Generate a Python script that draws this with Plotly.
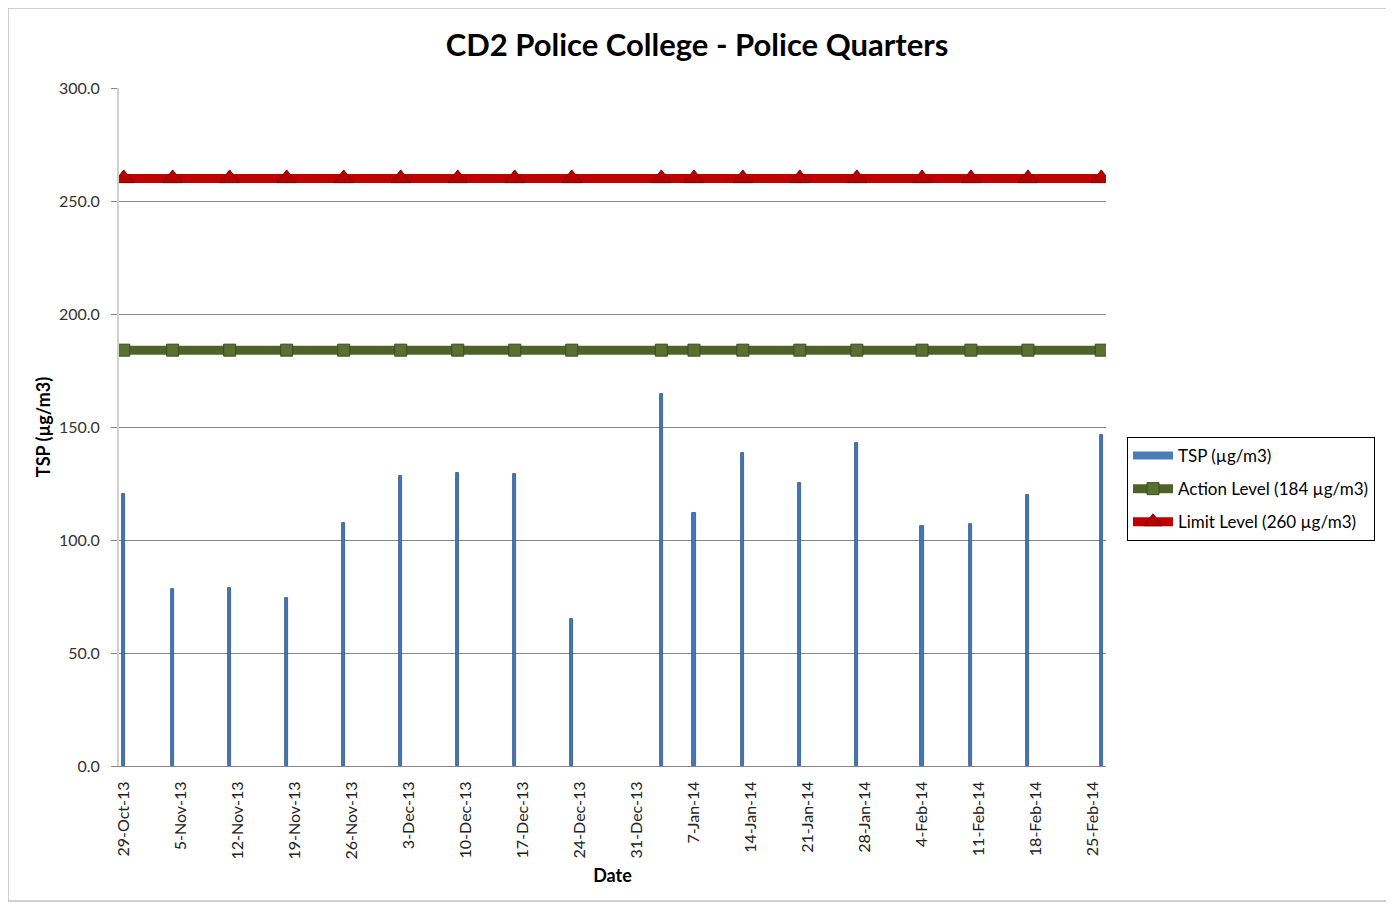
import plotly.graph_objects as go

dates = ["2013-10-29", "2013-11-04", "2013-11-11", "2013-11-18", "2013-11-25",
         "2013-12-02", "2013-12-09", "2013-12-16", "2013-12-23", "2014-01-03",
         "2014-01-07", "2014-01-13", "2014-01-20", "2014-01-27", "2014-02-04",
         "2014-02-10", "2014-02-17", "2014-02-26"]
tsp = [120.4, 78.2, 78.8, 74.3, 107.4, 128.3, 129.6, 129.0, 65.0, 164.5,
       111.8, 138.6, 125.4, 142.8, 106.3, 107.2, 119.8, 146.3]
action_level = [184] * len(dates)
limit_level = [260] * len(dates)
tick_dates = ["2013-10-29", "2013-11-05", "2013-11-12", "2013-11-19", "2013-11-26",
              "2013-12-03", "2013-12-10", "2013-12-17", "2013-12-24", "2013-12-31",
              "2014-01-07", "2014-01-14", "2014-01-21", "2014-01-28", "2014-02-04",
              "2014-02-11", "2014-02-18", "2014-02-25"]
tick_labels = ["29-Oct-13", "5-Nov-13", "12-Nov-13", "19-Nov-13", "26-Nov-13",
               "3-Dec-13", "10-Dec-13", "17-Dec-13", "24-Dec-13", "31-Dec-13",
               "7-Jan-14", "14-Jan-14", "21-Jan-14", "28-Jan-14", "4-Feb-14",
               "11-Feb-14", "18-Feb-14", "25-Feb-14"]

FONT = "Lato"

# page has an 8px body margin; figure is sized/positioned to compensate
W, H = 1386, 896
L, T = 111, 80
PW = 1098 - L   # plot width
PH = 758 - T    # plot height

fig = go.Figure()
fig.add_trace(go.Bar(
    x=dates, y=tsp, name="TSP (µg/m3)", showlegend=False,
    width=33000000,
    marker=dict(color="#4576B5", line=dict(color="#2C5587", width=0.8)),
))
fig.add_trace(go.Scatter(
    x=[None], y=[None], name="TSP (µg/m3)", mode="lines",
    line=dict(color="#4A7EBB", width=8), legendgroup="a",
))
fig.add_trace(go.Scatter(
    x=dates, y=action_level, name="Action Level (184 µg/m3)",
    mode="lines+markers", legendgroup="b",
    line=dict(color="#4F6228", width=9),
    marker=dict(symbol="square", size=12, color="#5A7030",
                line=dict(color="#3D4C1F", width=1)),
))
fig.add_trace(go.Scatter(
    x=dates, y=limit_level, name="Limit Level (260 µg/m3)",
    mode="lines+markers", legendgroup="c",
    line=dict(color="#C00000", width=9),
    marker=dict(symbol="triangle-up", size=17, color="#B80000",
                line=dict(color="#7A0000", width=1)),
))

fig.update_layout(
    width=W, height=H,
    margin=dict(l=L, r=W - 1098, t=T, b=H - 758),
    paper_bgcolor="white", plot_bgcolor="white",
    font=dict(family=FONT, size=16, color="#222222"),
    title=dict(text="<b>CD2 Police College - Police Quarters</b>",
               x=(697 - 8) / W, xanchor="center", y=1 - (45 - 8) / H, yanchor="middle",
               font=dict(family=FONT, size=31, color="black")),
    showlegend=True,
    legend=dict(x=(1127 - 119) / PW, xanchor="left", y=(766 - 437) / PH, yanchor="top",
                bordercolor="black", borderwidth=1, bgcolor="white",
                font=dict(family=FONT, size=17, color="black"),
                traceorder="grouped", tracegroupgap=8, itemwidth=40),
    bargap=0,
    shapes=[dict(type="rect", xref="paper", yref="paper",
                 x0=(8 - 119) / PW, x1=(1390 - 119) / PW,
                 y0=(766 - 901) / PH, y1=(766 - 8) / PH,
                 line=dict(color="#A0A0A0", width=1), fillcolor="rgba(0,0,0,0)",
                 layer="below")],
)
fig.update_xaxes(
    type="date",
    range=["2013-10-28 10:00", "2014-02-26 14:00"],
    tickvals=tick_dates, ticktext=tick_labels, tickangle=-90,
    tickfont=dict(family=FONT, size=16, color="#222222"),
    showgrid=False, showline=True, linecolor="#868686", linewidth=1,
    ticks="", zeroline=False, ticklabelstandoff=8,
    title=dict(text="<b>Date</b>", font=dict(family=FONT, size=18, color="black"), standoff=10),
)
fig.update_yaxes(
    range=[0, 300], tickvals=[0, 50, 100, 150, 200, 250, 300],
    tickformat=".1f",
    tickfont=dict(family=FONT, size=16, color="#333333"),
    showgrid=True, gridcolor="#868686", gridwidth=1,
    showline=True, linecolor="#D0D0D0", linewidth=2,
    ticks="outside", ticklen=6, tickcolor="#868686",
    zeroline=False, ticklabelstandoff=8,
    title=dict(text="<b>TSP (µg/m3)</b>", font=dict(family=FONT, size=18, color="black"), standoff=4),
)

fig.write_html("out.html")
